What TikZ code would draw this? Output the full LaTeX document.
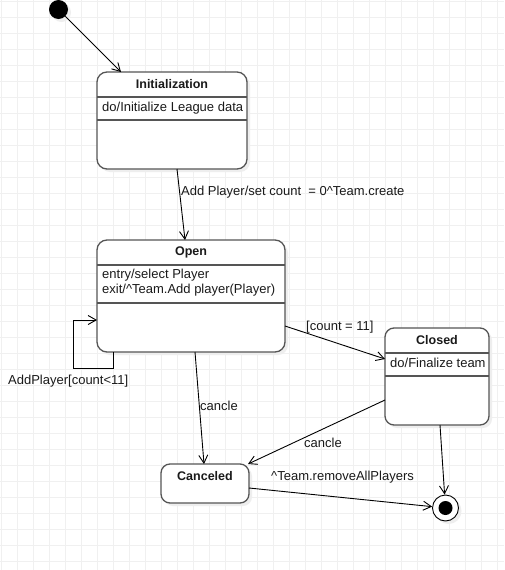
\documentclass[tikz,border=0pt]{standalone}
\usepackage{fontspec}
\setmainfont{Liberation Sans}
\usetikzlibrary{arrows.meta,shadows}
\definecolor{colorLine}{HTML}{000000}
\definecolor{colorBox}{HTML}{555555}
\definecolor{colorGrid}{HTML}{F0F0F0}
\definecolor{colorShadow}{HTML}{EEEEEE}
\definecolor{colorText}{HTML}{1A1A1A}

\begin{document}
\begin{tikzpicture}
\tikzset{x=1pt,y=-1pt}
\tikzset{
  statebox/.style={draw=colorBox, line width=1.3pt, fill=white, rounded corners=10pt, anchor=north west, inner sep=0pt, outer sep=0pt, drop shadow={shadow xshift=3pt, shadow yshift=-3pt, opacity=1, fill=colorShadow}},
  boxline/.style={draw=colorBox, line width=1.3pt},
  gridline/.style={draw=colorGrid, line width=0.9pt},
  txt/.style={font=\fontsize{13}{15}\selectfont, inner sep=0pt, text=colorText},
  stitle/.style={txt, font=\fontsize{12.5}{15}\selectfont\bfseries},
  lbl/.style={txt, anchor=west},
  trans/.style={draw=colorLine, line width=0.9pt, -{Straight Barb[length=8pt,width=9pt]}},
}
\useasboundingbox (0,0) rectangle (504,570);
\fill[white] (0,0) rectangle (504,570);
\foreach \gx in {1,17,...,497} \draw[gridline] (\gx,0) -- (\gx,570);
\foreach \gy in {1,17,...,569} \draw[gridline] (0,\gy) -- (504,\gy);

% states
\node[circle, fill=black, inner sep=0pt, minimum size=19pt, drop shadow={shadow xshift=3pt, shadow yshift=-3pt, opacity=1, fill=colorShadow}] (start) at (58.5,9.5) {};
\node[statebox, minimum width=150, minimum height=97] (init) at (97,72) {};
\draw[boxline] ([yshift=-25pt]init.north west) -- ([yshift=-25pt]init.north east);
\draw[boxline] ([yshift=-48pt]init.north west) -- ([yshift=-48pt]init.north east);
\node[stitle] (initname) at (172,84) {Initialization};
\node[lbl] (initdo) at (102,108) {do/Initialize League data};

\node[statebox, minimum width=188, minimum height=112] (open) at (97,240) {};
\draw[boxline] ([yshift=-25pt]open.north west) -- ([yshift=-25pt]open.north east);
\draw[boxline] ([yshift=-63pt]open.north west) -- ([yshift=-63pt]open.north east);
\node[stitle] (openname) at (191,252) {Open};
\node[lbl, align=left] (opendo) at (102,283) {entry/select Player\\exit/\textasciicircum Team.Add player(Player)};

\node[statebox, rounded corners=9pt, minimum width=104, minimum height=97] (closed) at (385,328) {};
\draw[boxline] ([yshift=-25pt]closed.north west) -- ([yshift=-25pt]closed.north east);
\draw[boxline] ([yshift=-48pt]closed.north west) -- ([yshift=-48pt]closed.north east);
\node[stitle] (closedname) at (437,340) {Closed};
\node[lbl] (closeddo) at (390,363) {do/Finalize team};

\node[statebox, rounded corners=9pt, minimum width=88, minimum height=39] (canceled) at (161,464) {};
\node[stitle] (canceledname) at (205,476) {Canceled};

\node[circle, draw=colorLine, line width=0.9pt, fill=white, inner sep=0pt, minimum size=26pt, drop shadow={shadow xshift=3pt, shadow yshift=-3pt, opacity=1, fill=colorShadow}] (final) at (445.5,508) {};
\node[circle, fill=black, inner sep=0pt, minimum size=14pt] (finaldot) at (final) {};

% transitions
\draw[trans] (start) -- ([xshift=24pt]init.north west);
\draw[trans] ([xshift=80pt]init.south west) -- ([xshift=88pt]open.north west);
\node[lbl] (lblcreate) at (181,192) {Add Player/set count\ \ = 0\textasciicircum Team.create};
\coordinate (loopin) at ([yshift=-80pt]open.north west);
\draw[trans] ([xshift=16pt]open.south west) -- ++(0,16) -| ([xshift=-24pt]loopin) -- (loopin);
\node[lbl] (lblloop) at (8,381) {AddPlayer[count<11]};
\draw[trans] ([yshift=-86pt]open.north east) -- ([yshift=-31pt]closed.north west);
\node[lbl] (lblfull) at (306,327) {[count = 11]};
\draw[trans] ([xshift=98pt]open.south west) -- ([xshift=43pt]canceled.north west);
\node[lbl] (lblcancelopen) at (200,406) {cancle};
\draw[trans] ([yshift=-72pt]closed.north west) -- ([xshift=-1pt]canceled.north east);
\node[lbl] (lblcancelclosed) at (304,443) {cancle};
\draw[trans] ([xshift=55pt]closed.south west) -- (final);
\draw[trans] ([yshift=-24pt]canceled.north east) -- (final);
\node[lbl] (lblremove) at (271,477) {\textasciicircum Team.removeAllPlayers};
\end{tikzpicture}
\end{document}
